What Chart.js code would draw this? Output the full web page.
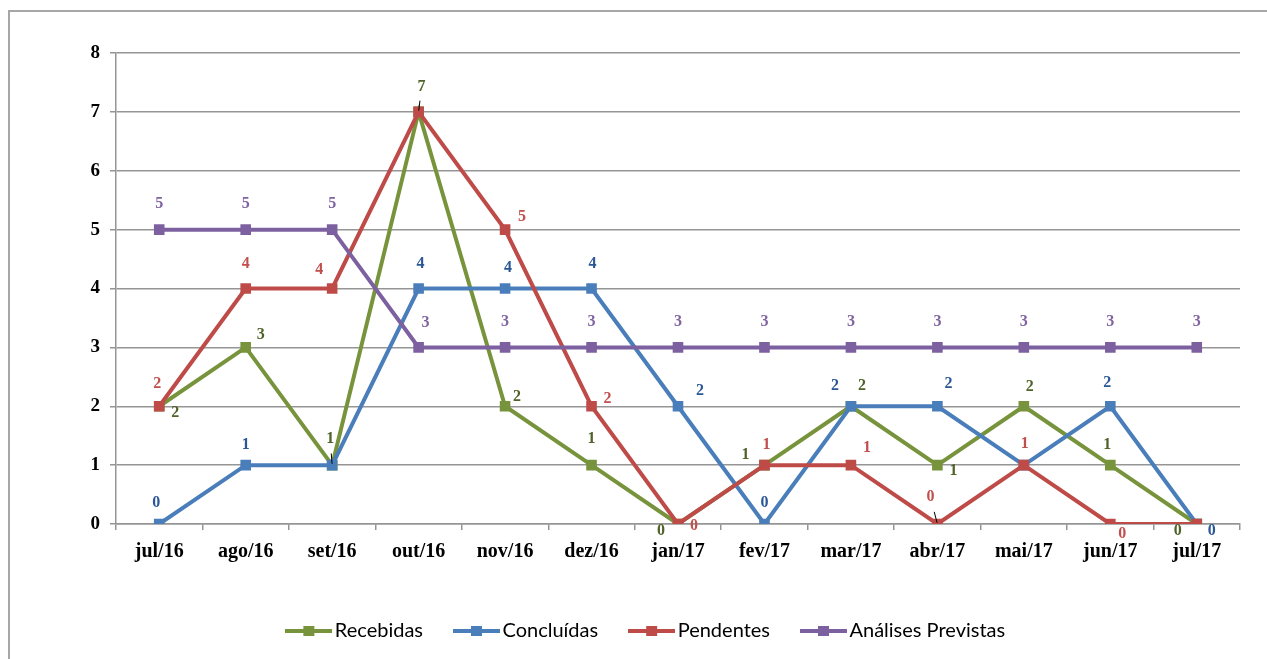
<!DOCTYPE html>
<html>
<head>
<meta charset="utf-8">
<script src="https://cdn.jsdelivr.net/npm/chart.js@4"></script>
<style>
  html, body { margin: 0; padding: 0; background: #fff; overflow: hidden; }
  #frame { position: absolute; left: 8px; top: 10px; width: 1400px; height: 800px;
           border: 2px solid #a6a6a6; box-sizing: border-box; }
  #wrap { position: absolute; left: 0; top: 0; width: 1267px; height: 659px; }
</style>
</head>
<body>
<div id="frame"></div>
<div id="wrap"><canvas id="c" width="1267" height="659"></canvas></div>
<script>
// Monthly categories
const months = ['jul/16', 'ago/16', 'set/16', 'out/16', 'nov/16', 'dez/16',
                'jan/17', 'fev/17', 'mar/17', 'abr/17', 'mai/17', 'jun/17', 'jul/17'];

// Series values
const recebidas         = [2, 3, 1, 7, 2, 1, 0, 1, 2, 1, 2, 1, 0];
const concluidas        = [0, 1, 1, 4, 4, 4, 2, 0, 2, 2, 1, 2, 0];
const pendentes         = [2, 4, 4, 7, 5, 2, 0, 1, 1, 0, 1, 0, 0];
const analisesPrevistas = [5, 5, 5, 3, 3, 3, 3, 3, 3, 3, 3, 3, 3];

// Value axis
const yMin = 0;
const yMax = 8;
const yStep = 1;

// Where each value label sits relative to its point (null = no label)
const labelOffsets = [
  [[16, 7], [15, -13], [-2, -26], [3, -25], [12, -9], [0, -26], [-17, 7], [-19, -10], [11, -20], [16, 6], [6, -19], [-3, -20], [-19, 7]],
  [[-3, -21], [0, -20], null, [2, -25], [3, -21], [1, -25], [22, -15], [0, -21], [-16, -20], [11, -22], null, [-3, -23], [15, 7]],
  [[-2, -22], [0, -25], [-13, -19], null, [17, -13], [16, -7], [16, 2], [2, -20], [16, -17], [-7, -27], [1, -21], [12, 10], null],
  [[0, -26], [0, -26], [0, -26], [7, -25], [0, -26], [0, -26], [0, -26], [0, -26], [0, -26], [0, -26], [0, -26], [0, -26], [0, -26]]
];
// Short leader strokes from a label to its point: [series, index]
const leaders = [[0, 3], [0, 2], [2, 9]];

const lineColors  = ['#77933C', '#4A7EBB', '#BE4B48', '#7D60A0'];
const labelColors = ['#4F6228', '#2B5797', '#C0504D', '#8064A2'];
const seriesNames = ['Recebidas', 'Concluídas', 'Pendentes', 'Análises Previstas'];
const seriesData  = [recebidas, concluidas, pendentes, analisesPrevistas];

const gridColor = '#959595';
const serif = '"Liberation Serif", "Times New Roman", serif';

// Legend swatch: a line with a square marker in the middle
function swatch(color) {
  const cv = document.createElement('canvas');
  cv.width = 47; cv.height = 12;
  const g = cv.getContext('2d');
  g.fillStyle = color;
  g.fillRect(0, 4, 47, 4);
  g.fillRect(18, 1, 11, 10);
  return cv;
}

const valueLabels = {
  id: 'valueLabels',
  afterDatasetsDraw(chart) {
    const ctx = chart.ctx;
    ctx.save();
    ctx.font = 'bold 16px ' + serif;
    ctx.textAlign = 'center';
    ctx.textBaseline = 'middle';
    chart.data.datasets.forEach((ds, i) => {
      const meta = chart.getDatasetMeta(i);
      meta.data.forEach((pt, j) => {
        const off = labelOffsets[i][j];
        if (!off) return;
        ctx.fillStyle = labelColors[i];
        ctx.fillText(String(ds.data[j]), pt.x + off[0], pt.y + off[1]);
      });
    });
    ctx.strokeStyle = '#000';
    ctx.lineWidth = 1;
    leaders.forEach(([i, j]) => {
      const pt = chart.getDatasetMeta(i).data[j];
      const off = labelOffsets[i][j];
      const lx = pt.x + off[0], ly = pt.y + off[1];
      const vx = pt.x - lx, vy = pt.y - ly;
      ctx.beginPath();
      ctx.moveTo(lx + vx * 0.55, ly + vy * 0.55);
      ctx.lineTo(lx + vx * 0.95, ly + vy * 0.95);
      ctx.stroke();
    });
    ctx.restore();
  }
};

Chart.defaults.font.family = serif;

new Chart(document.getElementById('c'), {
  type: 'line',
  data: {
    labels: months,
    datasets: seriesData.map((d, i) => ({
      label: seriesNames[i],
      data: d,
      borderColor: lineColors[i],
      backgroundColor: lineColors[i],
      borderWidth: 4,
      pointStyle: 'rect',
      pointRadius: 7.5,
      pointBorderWidth: 0,
      pointBackgroundColor: lineColors[i],
      tension: 0,
      fill: false,
      order: 4 - i
    }))
  },
  options: {
    responsive: false,
    animation: false,
    layout: { padding: { left: 58, right: 27, top: 53, bottom: 8 } },
    scales: {
      x: {
        offset: true,
        grid: { display: true, drawOnChartArea: false, offset: true, tickLength: 6, color: gridColor, lineWidth: 1.5 },
        border: { display: true, color: gridColor, width: 1.5 },
        ticks: { color: '#000', font: { size: 20, weight: 'bold', family: serif }, padding: 10, maxRotation: 0, autoSkip: false },
        afterFit(s) { s.height = 59.5; }
      },
      y: {
        min: yMin, max: yMax,
        grid: { color: gridColor, lineWidth: 1.5, tickLength: 6 },
        border: { display: true, color: gridColor, width: 1.5 },
        ticks: { stepSize: yStep, color: '#000', font: { size: 19, weight: 'bold', family: serif }, padding: 10 },
        afterFit(s) { s.width = 58; }
      }
    },
    plugins: {
      legend: {
        position: 'bottom',
        labels: {
          usePointStyle: true,
          pointStyleWidth: 32,
          padding: 37.5,
          color: '#000',
          font: { family: 'Lato, "Open Sans", sans-serif', size: 20 },
          sort: (a, b) => a.datasetIndex - b.datasetIndex,
          generateLabels(chart) {
            return chart.data.datasets.map((ds, i) => ({
              text: ds.label,
              datasetIndex: i,
              pointStyle: swatch(lineColors[i]),
              fillStyle: lineColors[i],
              strokeStyle: lineColors[i],
              lineWidth: 0,
              hidden: false,
              fontColor: '#000'
            }));
          }
        }
      },
      tooltip: { enabled: false }
    }
  },
  plugins: [valueLabels]
});
</script>
</body>
</html>
